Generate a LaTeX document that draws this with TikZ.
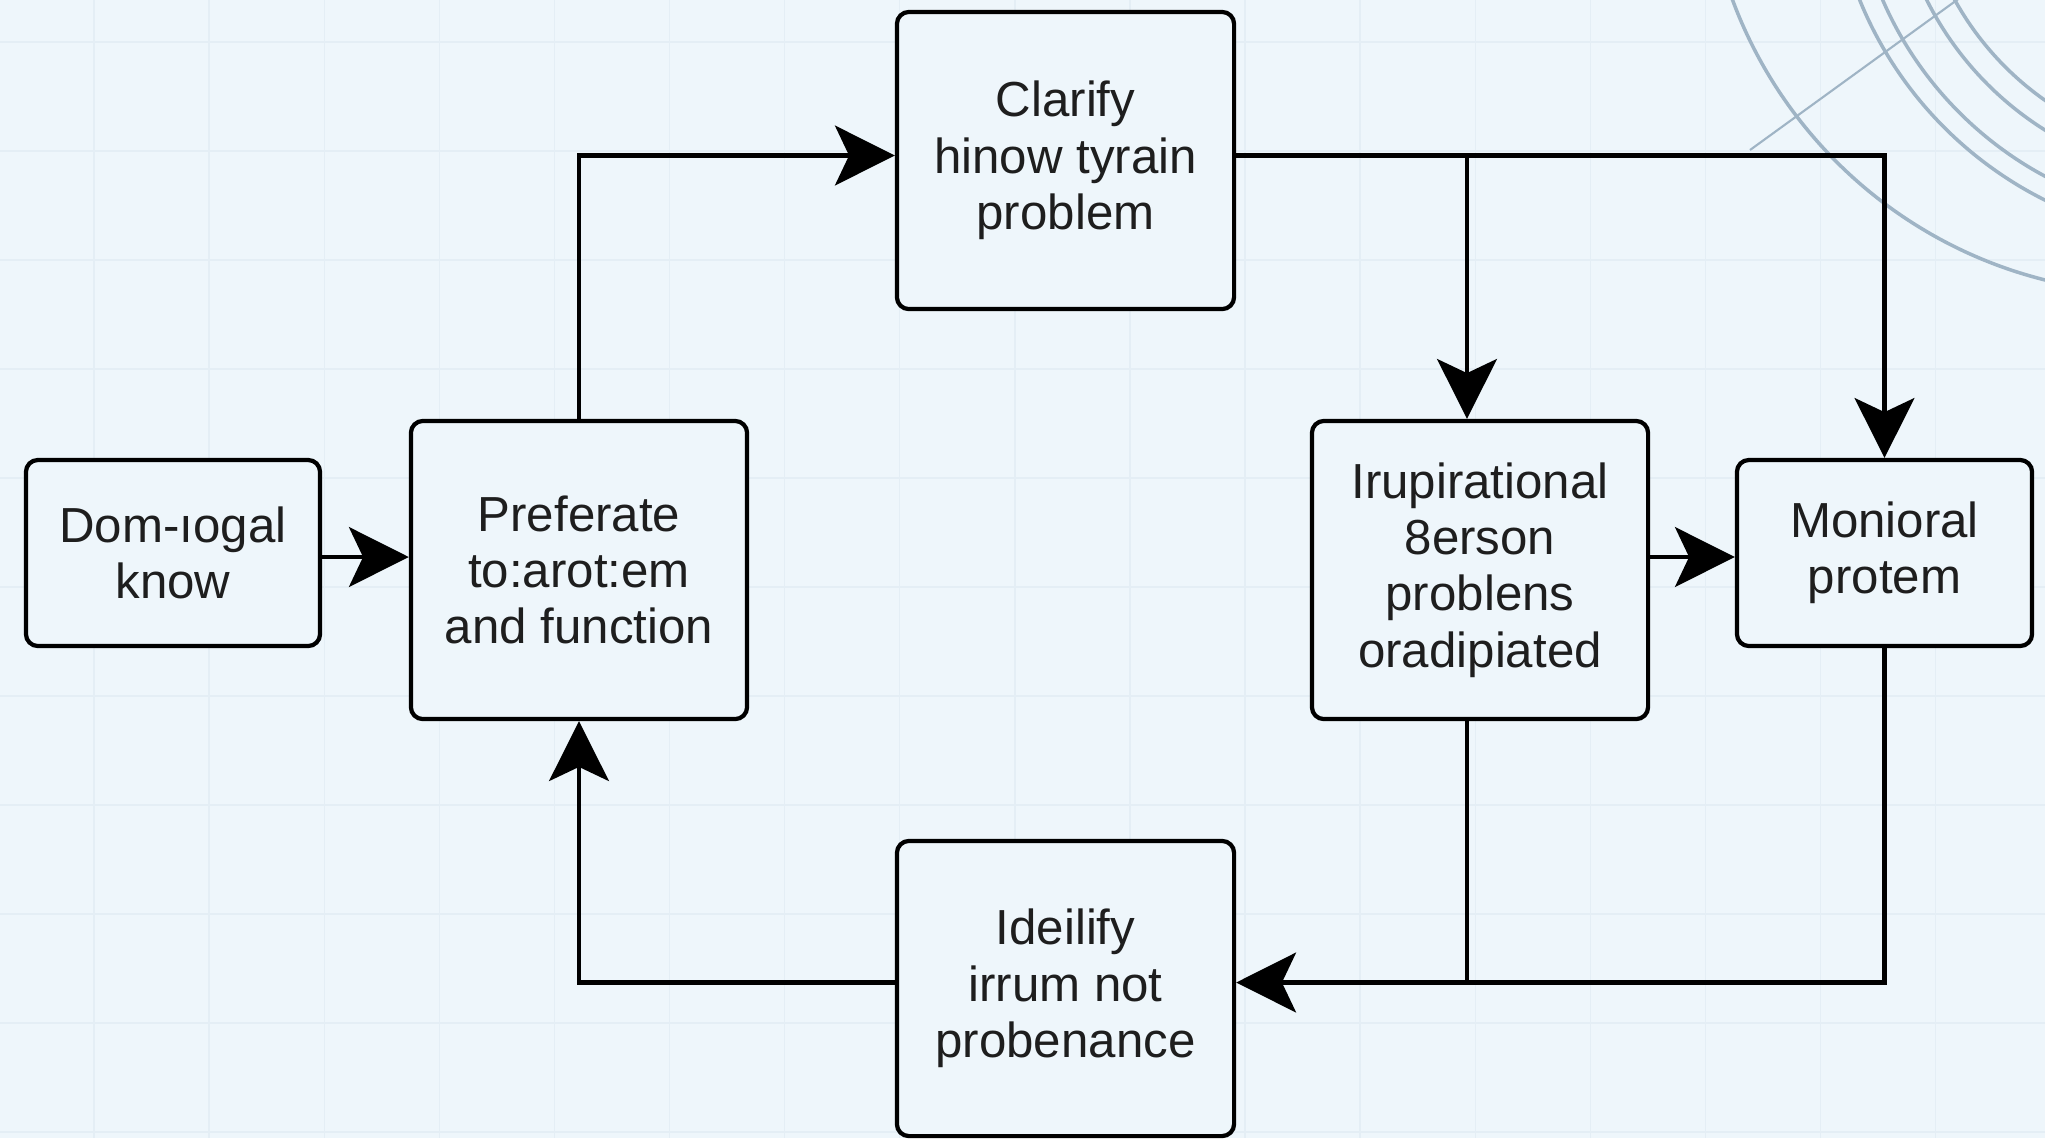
\documentclass[tikz,border=0pt]{standalone}
\usepackage{fontspec}
\setmainfont{Liberation Sans}
\usetikzlibrary{arrows.meta}
\definecolor{bgc}{HTML}{EEF6FB}
\definecolor{gridc}{HTML}{E4EEF5}
\definecolor{arcc}{HTML}{9FB4C5}
\definecolor{txtc}{HTML}{1E1E1E}
\begin{document}
\begin{tikzpicture}[x=0.01cm,y=-0.01cm,
  box/.style={draw=black, line width=1.2pt, rounded corners=0.12cm, fill=bgc,
    align=center, inner sep=0pt, font=\fontsize{14}{16}\selectfont, text=txtc},
  conn/.style={line width=1.2pt, draw=black},
  arr/.style={conn, -{Stealth[length=17pt,width=17pt,inset=4pt]}},
  deco/.style={draw=arcc, line width=1pt},
  gridline/.style={draw=gridc, line width=0.4pt}]
\useasboundingbox (0,0) rectangle (2045,1138);
\fill[bgc] (0,0) rectangle (2045,1138);
\foreach \i in {0,...,16} \draw[gridline] ({94+115.1*\i},0) -- ({94+115.1*\i},1138);
\foreach \j in {0,...,10} \draw[gridline] (0,{42+109*\j}) -- (2045,{42+109*\j});
\begin{scope}
  \clip (0,0) rectangle (2045,1138);
  \draw[deco] (2154,-156) circle[radius=4.49cm];
  \foreach \r in {3.853,3.641,3.242,2.994} \draw[deco] (2217,-145) circle[radius=\r cm];
  \draw[deco, line width=0.6pt] (1750,150) -- (1990,-24);
\end{scope}

\node[box, minimum width=2.94cm, minimum height=1.86cm] (A) at (173,553) {Dom-ıogal\\know};
\node[box, minimum width=3.36cm, minimum height=2.98cm] (B) at (579,570) {Preferate\\to:arot:em\\and function};
\node[box, minimum width=3.37cm, minimum height=2.97cm] (C) at (1065.5,160.5) {Clarify\\hinow tyrain\\problem};
\node[box, minimum width=3.36cm, minimum height=2.98cm] (D) at (1480,570) {Irupirational\\8erson\\problens\\oradipiated};
\node[box, minimum width=2.95cm, minimum height=1.86cm] (E) at (1884.5,553) {Monioral\\protem};
\node[box, minimum width=3.37cm, minimum height=2.95cm] (F) at (1065.5,988.5) {Ideilify\\irrum not\\probenance};

\coordinate (Cout) at ([yshift=0.05cm]C.east);
\coordinate (Cin) at ([yshift=0.05cm]C.west);
\coordinate (Ain) at ([yshift=-0.04cm]A.east);
\coordinate (Dtop) at ([xshift=-0.13cm]D.north);
\coordinate (Dbot) at ([xshift=-0.13cm]D.south);
\coordinate (Fin) at ([yshift=0.06cm]F.east);
\coordinate (Fout) at ([yshift=0.06cm]F.west);
\coordinate (Ein) at ([yshift=-0.04cm]E.west);
\coordinate (J) at (Dbot |- Fin);
\draw[arr] (Ain) -- (B.west |- Ain);
\draw[arr] (B.north) |- (Cin);
\draw[arr] (Cout) -| (E.north);
\draw[arr] (Cout -| Dtop) -- (Dtop);
\draw[arr] (D.east |- Ein) -- (Ein);
\draw[conn] (E.south) |- (J);
\draw[arr] (Dbot) |- (Fin);
\draw[arr] (Fout) -| (B.south);
\end{tikzpicture}
\end{document}
